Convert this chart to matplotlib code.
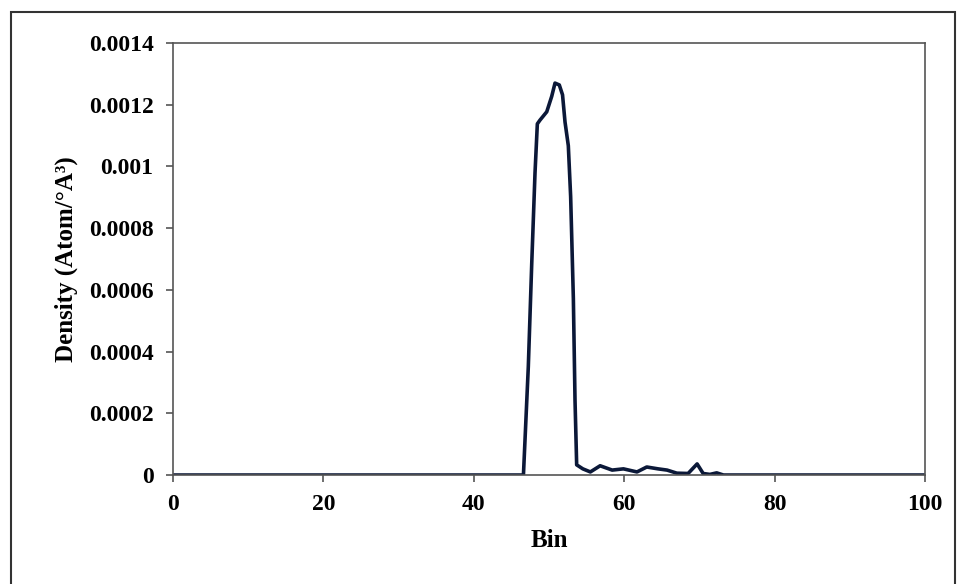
import matplotlib.pyplot as plt
from matplotlib.patches import Rectangle

# density profile
bins = [0, 46.6, 47.25, 47.7, 48.14, 48.45, 48.8, 49.7, 50.36, 50.8, 51.37,
        51.8, 52.13, 52.57, 52.88, 53.24, 53.46, 53.68, 54.5, 55.5, 56.8,
        58.4, 59.9, 61.7, 63.0, 64.5, 65.7, 67.0, 68.5, 69.7, 70.5, 71.4,
        72.3, 73.2, 100]
density = [0, 0, 0.000352, 0.000682, 0.000979, 0.001138, 0.00115, 0.001177,
           0.001227, 0.00127, 0.001264, 0.001232, 0.001144, 0.001067,
           0.000902, 0.000572, 0.000242, 0.000033, 0.00002, 0.00001, 0.00003,
           0.000016, 0.00002, 0.00001, 0.000026, 0.00002, 0.000016, 0.000006,
           0.000005, 0.000036, 0.000005, 0.000002, 0.000007, 0, 0]

xticks = [0, 20, 40, 60, 80, 100]
yticks = [0, 0.0002, 0.0004, 0.0006, 0.0008, 0.001, 0.0012, 0.0014]
ytick_labels = ['0', '0.0002', '0.0004', '0.0006', '0.0008', '0.001',
                '0.0012', '0.0014']

plt.rcParams['font.family'] = ['Liberation Serif', 'DejaVu Serif']
plt.rcParams['font.weight'] = 'bold'

fig = plt.figure(figsize=(9.64, 5.84), dpi=100)
ax = fig.add_axes([0.1795, 0.1866, 0.78, 0.7398])

# outer frame around the whole chart
fig.patches.append(Rectangle((11 / 964, -0.05), (955 - 11) / 964, 1.05 - 12 / 584,
                             transform=fig.transFigure, fill=False,
                             edgecolor='#333333', linewidth=1.5))

ax.plot(bins, density, color='#0b1838', linewidth=2.6, solid_joinstyle='round')

ax.set_xlim(0, 100)
ax.set_ylim(0, 0.0014)
ax.set_xticks(xticks)
ax.set_yticks(yticks)
ax.set_yticklabels(ytick_labels)
for s in ax.spines.values():
    s.set_color('#555555')
    s.set_linewidth(1.2)
ax.tick_params(direction='out', length=5, width=1.2, color='#555555',
               labelsize=17, pad=9)
for lab in ax.get_xticklabels() + ax.get_yticklabels():
    lab.set_fontweight('bold')

ax.set_xlabel('Bin', fontsize=18, fontweight='bold', labelpad=10)
ax.set_ylabel('Density (Atom/°A³)', fontsize=18, fontweight='bold', labelpad=8)

fig.savefig('out.png', dpi=100)
